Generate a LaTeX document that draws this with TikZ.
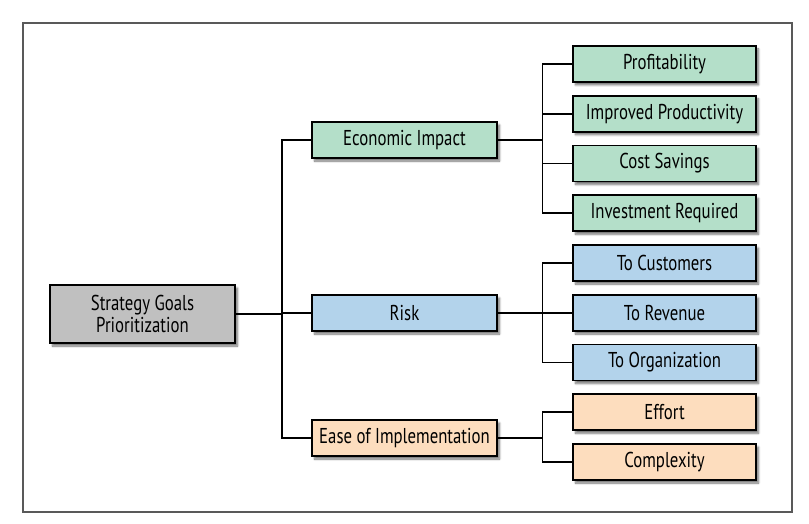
\documentclass[tikz,border=0pt]{standalone}
\usepackage{fontspec}
\setmainfont[FakeStretch=0.78]{PT Sans}
\usetikzlibrary{shadows.blur}
\definecolor{ecogreen}{RGB}{180,223,201}
\definecolor{riskblue}{RGB}{179,211,235}
\definecolor{easepeach}{RGB}{253,221,190}
\definecolor{rootgray}{RGB}{192,192,192}

\begin{document}
\begin{tikzpicture}[x=1pt, y=-1pt]
 \tikzstyle{goalbox}=[rectangle, draw, line width=1.8pt, text=black, align=center,
   inner sep=0pt, minimum height=36pt, font=\fontsize{21.5}{22}\selectfont,
   blur shadow={shadow xshift=2.5pt, shadow yshift=-3pt, shadow blur steps=6, shadow opacity=55}]
 \tikzstyle{midbox}=[goalbox, minimum width=185pt]
 \tikzstyle{leafbox}=[goalbox, minimum width=183pt]
 \tikzstyle{branch}=[line width=1.8pt, line cap=rect]
 %
 \useasboundingbox (0,0) rectangle (809,524);
 \draw[line width=1.2pt, gray!70!black] (23,23) rectangle (792,512);
 %
 \node[goalbox, fill=rootgray, minimum width=185pt, minimum height=58pt] (Root) at (142.5,314) {Strategy Goals\\Prioritization};
 %
 \node[midbox, fill=ecogreen] (Eco) at (404.5,140) {Economic Impact};
 \node[midbox, fill=riskblue] (Risk) at (404.5,313) {Risk};
 \node[midbox, fill=easepeach] (Ease) at (404.5,438) {Ease of Implementation};
 %
 \node[leafbox, fill=ecogreen] (Prof) at (664.5,64) {Profitability};
 \node[leafbox, fill=ecogreen] (Impr) at (664.5,113.75) {Improved Productivity};
 \node[leafbox, fill=ecogreen] (Cost) at (664.5,163.5) {Cost Savings};
 \node[leafbox, fill=ecogreen] (Inv) at (664.5,213.25) {Investment Required};
 \node[leafbox, fill=riskblue] (Cust) at (664.5,263) {To Customers};
 \node[leafbox, fill=riskblue] (Rev) at (664.5,313) {To Revenue};
 \node[leafbox, fill=riskblue] (Org) at (664.5,362.5) {To Organization};
 \node[leafbox, fill=easepeach] (Eff) at (664.5,412.25) {Effort};
 \node[leafbox, fill=easepeach] (Cplx) at (664.5,462) {Complexity};
 %
 \coordinate (B0) at (282,314);
 \coordinate (B1) at (542.5,140);
 \coordinate (B2) at (542.5,313);
 \coordinate (B3) at (542.5,438);
 %%
 \draw[branch] (Root.east) -- (B0);
 \draw[branch] (Eco.west) -| (B0) |- (Ease.west);
 \draw[branch] (B0) |- (Risk.west);
 %
 \draw[branch] (Eco.east) -- (B1);
 \draw[branch] (Prof.west) -| (B1) |- (Inv.west);
 \draw[branch] (B1) |- (Impr.west);
 \draw[branch] (B1) |- (Cost.west);
 %
 \draw[branch] (Risk.east) -- (B2);
 \draw[branch] (Cust.west) -| (B2) |- (Org.west);
 \draw[branch] (B2) |- (Rev.west);
 %
 \draw[branch] (Ease.east) -- (B3);
 \draw[branch] (Eff.west) -| (B3) |- (Cplx.west);
\end{tikzpicture}
\end{document}
